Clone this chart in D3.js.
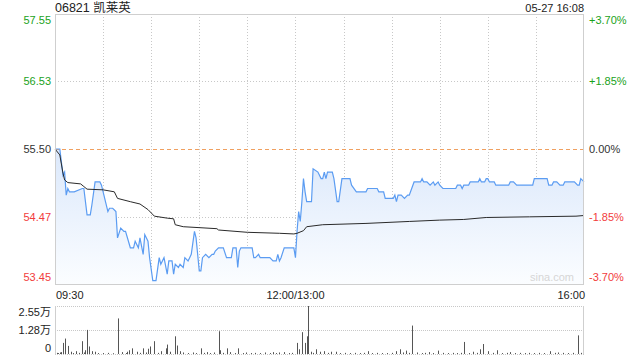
<!DOCTYPE html>
<html><head><meta charset="utf-8">
<script src="https://cdn.jsdelivr.net/npm/d3@7/dist/d3.min.js"></script>
<style>
html,body{margin:0;padding:0;background:#fff;}
svg text{font-family:"Liberation Sans",Arial,"Noto Sans CJK SC",sans-serif;}
</style></head>
<body><svg id="c" width="640" height="360"></svg>
<script>
const title = "06821 凯莱英";
const stamp = "05-27 16:08";
const prevClose = 55.50;
const priceTicks = [57.55, 56.53, 55.50, 54.47, 53.45];
const pctLabels = ["+3.70%", "+1.85%", "0.00%", "-1.85%", "-3.70%"];
const timeLabels = ["09:30", "12:00/13:00", "16:00"];
const volTickLabels = ["2.55万", "1.28万", "0"];
const volTicks = [2.55, 1.28, 0];

// minute index since 09:30 (lunch removed), price
const priceMin = [0,3,5,6,7,8,9,10,12,17,18,20,22,23,25,28,29,31,33,34,36,38,39,41,43,44,47,49,50,52,53,55,56,58,59,61,63,65,66,68,70,71,73,74,75,77,78,80,81,83,84,85,87,88,90,91,92,94,96,98,99,100,102,105,107,110,111,113,114,115,116,123,124,125,127,128,130,134,136,138,139,140,141,143,149,150,
151,152,153,154,155,156,157,160,161,164,166,167,168,169,170,173,174,176,177,179,184,185,188,194,195,201,202,205,206,211,212,213,214,216,218,220,221,224,228,229,230,232,234,236,237,239,240,242,250,251,253,254,255,258,259,264,265,266,268,269,270,271,274,275,283,284,286,288,298,299,307,308,310,311,313,315,317,318,324,326,327,328,330];
const price = [55.50,55.50,55.10,55.15,54.80,54.90,54.85,54.85,54.85,54.90,54.90,54.50,54.50,54.65,55.00,55.00,54.95,54.75,54.55,54.60,54.60,54.55,54.15,54.30,54.25,54.25,54.00,54.00,54.10,54.00,54.15,53.90,54.20,54.10,53.85,53.50,53.50,53.85,53.75,53.85,53.60,53.80,53.80,53.60,53.75,53.70,53.75,53.70,53.85,53.80,53.85,53.90,54.25,54.15,53.65,53.65,53.85,53.90,53.85,53.90,53.90,53.95,54.00,54.00,53.85,53.85,54.00,54.00,53.70,53.95,54.00,54.00,53.85,53.85,53.90,53.85,53.85,53.85,53.80,53.80,53.90,53.80,53.85,54.00,54.00,53.85,
54.25,54.55,54.40,54.70,55.05,54.85,54.70,54.70,55.20,55.15,55.05,55.05,55.15,55.05,55.15,55.15,55.05,54.70,54.70,55.05,55.05,54.95,54.85,54.85,54.90,54.90,54.85,54.85,54.75,54.75,54.80,54.70,54.80,54.80,54.75,54.80,54.80,55.00,55.00,55.05,55.00,55.00,54.95,55.00,54.95,55.00,54.95,54.90,54.90,54.95,54.95,54.90,54.95,54.95,55.00,55.00,55.05,55.00,55.00,55.05,55.05,55.00,55.00,54.95,54.95,55.00,55.00,54.95,54.95,55.05,55.05,54.95,54.95,55.00,55.00,54.95,54.95,55.00,55.00,54.95,54.95,55.05,55.00];

const avgMin = [0,3,5,6,8,16,18,20,30,37,39,47,53,58,62,70,74,75,80,101,102,120,140,149,151,155,157,167,194,221,240,255,269,296,325,330];
const avgPrice = [55.50,55.41,55.13,55.03,54.99,54.97,54.93,54.89,54.88,54.85,54.75,54.70,54.665,54.58,54.48,54.45,54.44,54.35,54.32,54.29,54.27,54.235,54.22,54.21,54.22,54.26,54.32,54.35,54.37,54.40,54.42,54.43,54.46,54.47,54.48,54.49];

// volume (万股) at minute index
const volMin = [1,2,3,4,5,6,8,10,11,13,15,17,18,19,20,21,23,25,27,30,33,36,39,42,44,45,46,48,51,53,55,57,58,59,62,64,66,69,70,72,75,76,78,80,83,86,88,91,93,95,97,99,102,103,105,107,109,112,114,117,119,122,125,128,131,134,136,138,140,143,146,148,151,152,154,156,157,158,160,161,163,165,168,170,172,175,178,181,184,187,190,193,195,198,201,204,207,210,213,215,217,219,221,223,226,229,231,233,236,239,242,245,248,251,253,255,258,261,263,265,267,270,273,276,279,282,284,287,290,293,296,299,302,305,309,312,314,317,320,323,326,328];
const vol = [0.06,0.05,0.08,0.10,0.59,0.82,0.43,0.12,0.05,0.15,0.06,0.68,0.08,0.20,1.28,0.40,0.15,0.12,0.05,0.05,0.06,0.04,1.89,0.10,0.05,0.12,0.20,0.30,0.12,0.06,0.30,0.08,0.28,0.40,0.68,0.06,0.15,0.30,0.50,0.12,0.94,0.45,0.15,0.08,0.05,0.08,0.05,0.30,0.06,0.10,0.05,0.08,1.21,0.20,0.06,0.30,0.10,0.05,0.30,0.05,0.08,0.05,0.06,0.05,0.08,0.05,0.10,0.05,0.08,0.10,0.05,0.06,0.59,0.25,1.16,0.59,0.94,2.55,0.12,0.06,0.25,0.12,0.15,0.06,0.12,0.12,0.05,0.06,0.05,0.06,0.05,0.06,0.15,0.05,0.06,0.05,0.05,0.06,0.15,0.25,0.08,0.18,0.06,1.51,0.08,0.05,0.06,0.10,0.05,0.18,0.06,0.05,0.06,0.05,0.06,0.64,0.05,0.12,0.06,0.25,0.53,0.15,0.06,0.20,0.05,0.06,0.10,0.05,0.06,0.05,0.06,0.05,0.06,0.05,0.15,0.06,0.08,0.06,0.05,0.06,0.99,0.06];

const svg = d3.select("#c");
const L = 55, R = 584, T = 14, B = 284;
const VT = 306, VB = 354;
const x = d3.scaleLinear().domain([0, 330]).range([L, R]);
const y = d3.scaleLinear().domain([53.45, 57.55]).range([B, T]);
const yv = d3.scaleLinear().domain([0, 2.55]).range([VB, VT]);

const green = "#1aa21a", red = "#f23c3c", dark = "#333";
const colorFor = v => v > prevClose + 1e-9 ? green : (v < prevClose - 1e-9 ? red : dark);

// title
svg.append("text").attr("x", L).attr("y", 11.5).attr("font-size", 12.5).attr("fill", "#222").text(title);
svg.append("text").attr("x", R).attr("y", 11.5).attr("font-size", 11).attr("text-anchor", "end").attr("fill", "#222").text(stamp);

// gradient
const defs = svg.append("defs");
const grad = defs.append("linearGradient").attr("id", "g").attr("x1", 0).attr("y1", 0).attr("x2", 0).attr("y2", 1)
  .attr("gradientUnits", "userSpaceOnUse").attr("x1", 0).attr("y1", y(prevClose)).attr("x2", 0).attr("y2", B);
grad.append("stop").attr("offset", 0).attr("stop-color", "#dbe8fb");
grad.append("stop").attr("offset", 1).attr("stop-color", "#fbfdff");

// grid
const gridMins = d3.range(30, 330, 30);
const grid = svg.append("g").attr("stroke", "#c8c8c8").attr("stroke-dasharray", "1,2").attr("stroke-width", 1);
gridMins.forEach(m => grid.append("line").attr("x1", Math.round(x(m)) + 0.5).attr("x2", Math.round(x(m)) + 0.5).attr("y1", T).attr("y2", B));
priceTicks.slice(1, 4).forEach(v => { if (v !== prevClose) grid.append("line").attr("x1", L).attr("x2", R).attr("y1", Math.round(y(v)) + 0.5).attr("y2", Math.round(y(v)) + 0.5); });

// area + lines
const pts = priceMin.map((m, i) => [m, price[i]]);
svg.append("path").datum(pts).attr("fill", "url(#g)")
  .attr("d", d3.area().x(d => x(d[0])).y0(B).y1(d => y(d[1])));
svg.append("line").attr("x1", L).attr("x2", R).attr("y1", Math.round(y(prevClose)) + 0.5).attr("y2", Math.round(y(prevClose)) + 0.5)
  .attr("stroke", "#f0a060").attr("stroke-dasharray", "4,3");
svg.append("path").datum(pts).attr("fill", "none").attr("stroke", "#5b9cf2").attr("stroke-width", 1.2)
  .attr("d", d3.line().x(d => x(d[0])).y(d => y(d[1])));
svg.append("path").datum(avgMin.map((m, i) => [m, avgPrice[i]])).attr("fill", "none").attr("stroke", "#2a2a2a").attr("stroke-width", 1)
  .attr("d", d3.line().x(d => x(d[0])).y(d => y(d[1])));

// border
svg.append("rect").attr("x", L + 0.5).attr("y", T + 0.5).attr("width", R - L - 1).attr("height", B - T).attr("fill", "none").attr("stroke", "#cfcfcf");

svg.append("text").attr("x", R - 10).attr("y", B - 3).attr("font-size", 11).attr("text-anchor", "end").attr("fill", "#d6d6d6").text("sina.com");

// price labels
const ly = [T + 10, y(priceTicks[1]) + 4, y(priceTicks[2]) + 4, y(priceTicks[3]) + 4, B - 3];
priceTicks.forEach((v, i) => {
  svg.append("text").attr("x", L - 4).attr("y", ly[i]).attr("font-size", 11).attr("text-anchor", "end").attr("fill", colorFor(v)).text(v.toFixed(2));
  svg.append("text").attr("x", R + 5).attr("y", ly[i]).attr("font-size", 11).attr("fill", colorFor(v)).text(pctLabels[i]);
});

// time labels
const tx = [x(0) + 1, x(150), x(330) + 1];
const ta = ["start", "middle", "end"];
timeLabels.forEach((t, i) => svg.append("text").attr("x", tx[i]).attr("y", 299).attr("font-size", 11).attr("text-anchor", ta[i]).attr("fill", "#222").text(t));

// volume panel
const vg = svg.append("g").attr("stroke", "#c8c8c8").attr("stroke-dasharray", "1,1");
vg.append("line").attr("x1", L).attr("x2", R).attr("y1", VT + 0.5).attr("y2", VT + 0.5);
vg.append("line").attr("x1", L).attr("x2", R).attr("y1", Math.round(yv(1.28)) + 0.5).attr("y2", Math.round(yv(1.28)) + 0.5);
vg.append("line").attr("x1", L).attr("x2", R).attr("y1", VB + 0.5).attr("y2", VB + 0.5);
svg.append("line").attr("x1", L + 0.5).attr("x2", L + 0.5).attr("y1", VT).attr("y2", VB).attr("stroke", "#cfcfcf");
svg.append("line").attr("x1", R - 0.5).attr("x2", R - 0.5).attr("y1", VT).attr("y2", VB).attr("stroke", "#cfcfcf");
svg.append("g").selectAll("line").data(volMin.map((m, i) => [m, vol[i]])).join("line")
  .attr("x1", d => Math.round(x(d[0])) + 0.5).attr("x2", d => Math.round(x(d[0])) + 0.5)
  .attr("y1", VB).attr("y2", d => yv(d[1])).attr("stroke", "#555").attr("stroke-width", 1);
const vly = [VT + 10, yv(1.28) + 4, VB - 2];
volTickLabels.forEach((t, i) => svg.append("text").attr("x", L - 4).attr("y", vly[i]).attr("font-size", 11).attr("text-anchor", "end").attr("fill", "#222").text(t));
</script></body></html>
